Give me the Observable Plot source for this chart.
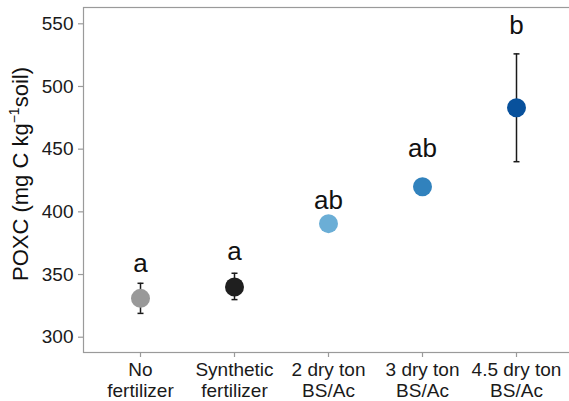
<!DOCTYPE html>
<html>
<head>
<meta charset="utf-8">
<script src="https://cdn.jsdelivr.net/npm/d3@7"></script>
<script src="https://cdn.jsdelivr.net/npm/@observablehq/plot@0.6"></script>
<style>
  html, body { margin: 0; padding: 0; background: #fff; }
  #chart svg { display: block; }
</style>
</head>
<body>
<div id="chart"></div>
<script>
const categories = ["No\nfertilizer", "Synthetic\nfertilizer", "2 dry ton\nBS/Ac", "3 dry ton\nBS/Ac", "4.5 dry ton\nBS/Ac"];
const means   = [331, 340, 390.6, 420, 483];
const lower   = [319, 330, 387, 416.5, 440];
const upper   = [343, 351, 394, 423.5, 526];
const letters = ["a", "a", "ab", "ab", "b"];
const letterY = [351.9, 361.7, 402.4, 443.6, 542];
const colors  = ["#999999", "#1f1f1f", "#6baed6", "#3182bd", "#08519c"];
const yTicks  = [300, 350, 400, 450, 500, 550];
const yDomain = [287.8, 563];
const yTitle  = ["POXC (mg C kg", "\u22121", "soil)"];

const data = categories.map((c, i) => ({
  cat: c, mean: means[i], lo: lower[i], hi: upper[i],
  letter: letters[i], ly: letterY[i], color: colors[i]
}));

const capSymbol = {
  draw(context, size) {
    const r = Math.sqrt(size / Math.PI);
    context.moveTo(-r, 0);
    context.lineTo(r, 0);
  }
};

const axisColor = "#9a9a9a";

const plot = Plot.plot({
  width: 569,
  height: 401,
  marginLeft: 83,
  marginRight: -3,
  marginTop: 7,
  marginBottom: 49,
  style: { fontFamily: "'Liberation Sans', Arial, sans-serif", background: "#fff", color: "#1a1a1a" },
  x: { type: "point", domain: categories, range: [139.5, 516.5], padding: 0 },
  y: { domain: yDomain, ticks: yTicks },
  marks: [
    Plot.frame({ stroke: axisColor, strokeWidth: 1.2 }),
    Plot.axisY({ ticks: yTicks, tickSize: 5, tickPadding: 5, fontSize: 19, stroke: axisColor, fill: "#1a1a1a", label: null, strokeWidth: 1.2 }),
    Plot.axisX({ tickSize: 5, tickPadding: 3.5, fontSize: 19, lineHeight: 1.1, stroke: axisColor, fill: "#1a1a1a", label: null, strokeWidth: 1.2 }),
    Plot.ruleX(data, { x: "cat", y1: "lo", y2: "hi", stroke: "#1a1a1a", strokeWidth: 1.5 }),
    Plot.dot(data, { x: "cat", y: "lo", r: 3, symbol: capSymbol, stroke: "#1a1a1a", strokeWidth: 1.5 }),
    Plot.dot(data, { x: "cat", y: "hi", r: 3, symbol: capSymbol, stroke: "#1a1a1a", strokeWidth: 1.5 }),
    Plot.dot(data, { x: "cat", y: "mean", r: 9.5, fill: "color", stroke: null }),
    Plot.text(data, { x: "cat", y: "ly", text: "letter", fontSize: 26, lineAnchor: "bottom", fill: "#111" })
  ]
});

document.getElementById("chart").appendChild(plot);

// y-axis title with superscript
const svg = d3.select(plot);
const t = svg.append("text")
  .attr("transform", "translate(28,174) rotate(-90)")
  .attr("text-anchor", "middle")
  .attr("font-size", 22)
  .attr("fill", "#111")
  .attr("font-family", "'Liberation Sans', Arial, sans-serif");
t.append("tspan").text(yTitle[0]);
t.append("tspan").attr("font-size", 14).attr("dy", -9).text(yTitle[1]);
t.append("tspan").attr("dy", 9).text(yTitle[2]);
</script>
</body>
</html>
